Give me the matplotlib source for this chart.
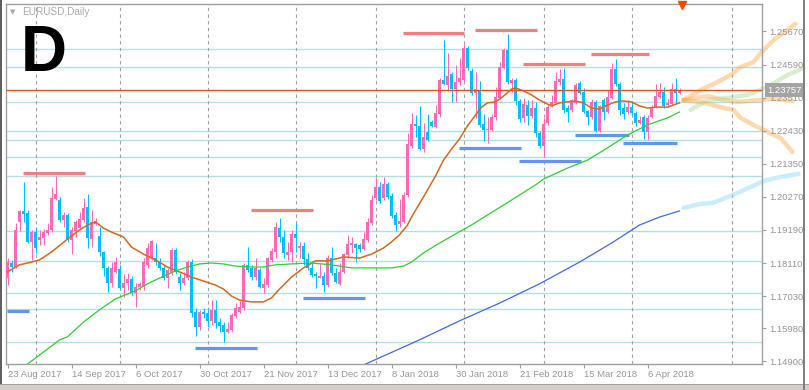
import matplotlib
matplotlib.use('Agg')
import matplotlib.pyplot as plt
import matplotlib.transforms as mtransforms
from matplotlib.patches import Rectangle
import numpy as np

# daily EURUSD candles, bar 0 = 23 Aug 2017
opens = [
    1.1762, 1.1811, 1.1798, 1.1945, 1.1981, 1.1974, 1.1880, 1.1912, 1.1886, 1.1893,
    1.1909, 1.1919, 1.2020, 1.2017, 1.1952, 1.1968, 1.1886, 1.1916, 1.1925, 1.1952,
    1.1994, 1.1889, 1.1938, 1.1899, 1.1847, 1.1795, 1.1746, 1.1782, 1.1791, 1.1729,
    1.1746, 1.1759, 1.1713, 1.1733, 1.1733, 1.1805, 1.1827, 1.1827, 1.1814, 1.1795,
    1.1762, 1.1778, 1.1854, 1.1765, 1.1746, 1.1762, 1.1814, 1.1651, 1.1602, 1.1651,
    1.1648, 1.1622, 1.1658, 1.1618, 1.1609, 1.1586, 1.1592, 1.1638, 1.1651, 1.1664,
    1.1805, 1.1795, 1.1765, 1.1788, 1.1729, 1.1739, 1.1821, 1.1847, 1.1925, 1.1896,
    1.1837, 1.1847, 1.1906, 1.1860, 1.1867, 1.1824, 1.1795, 1.1775, 1.1762, 1.1769,
    1.1739, 1.1827, 1.1778, 1.1742, 1.1782, 1.1837, 1.1870, 1.1873, 1.1870, 1.1857,
    1.1886, 1.1942, 1.2023, 1.2059, 1.2023, 1.2069, 1.2030, 1.1968, 1.1938, 1.1945,
    1.2033, 1.2193, 1.2265, 1.2258, 1.2183, 1.2239, 1.2271, 1.2255, 1.2298, 1.2409,
    1.2392, 1.2428, 1.2379, 1.2402, 1.2409, 1.2513, 1.2438, 1.2366, 1.2376, 1.2265,
    1.2245, 1.2245, 1.2288, 1.2350, 1.2448, 1.2507, 1.2399, 1.2409, 1.2340, 1.2285,
    1.2327, 1.2291, 1.2317, 1.2236, 1.2193, 1.2268, 1.2327, 1.2333, 1.2402, 1.2412,
    1.2317, 1.2311, 1.2333, 1.2399, 1.2369, 1.2307, 1.2288, 1.2336, 1.2242, 1.2343,
    1.2304, 1.2350, 1.2444, 1.2396, 1.2317, 1.2304, 1.2320, 1.2301, 1.2268, 1.2288,
    1.2239, 1.2288, 1.2320, 1.2353, 1.2369, 1.2327, 1.2330, 1.2379, 1.2366]
highs = [
    1.1827, 1.1821, 1.1942, 1.1984, 1.2076, 1.1984, 1.1919, 1.1929, 1.1919, 1.1922,
    1.1942, 1.2059, 1.2095, 1.2027, 1.1978, 1.1974, 1.1929, 1.1952, 1.1978, 1.2023,
    1.2036, 1.1984, 1.1958, 1.1929, 1.1850, 1.1801, 1.1814, 1.1831, 1.1805, 1.1775,
    1.1778, 1.1769, 1.1746, 1.1749, 1.1827, 1.1876, 1.1886, 1.1876, 1.1827, 1.1805,
    1.1795, 1.1860, 1.1860, 1.1778, 1.1782, 1.1821, 1.1824, 1.1664, 1.1658, 1.1664,
    1.1664, 1.1690, 1.1690, 1.1631, 1.1618, 1.1618, 1.1648, 1.1680, 1.1690, 1.1811,
    1.1863, 1.1805, 1.1827, 1.1795, 1.1762, 1.1831, 1.1860, 1.1945, 1.1958, 1.1919,
    1.1880, 1.1919, 1.1942, 1.1880, 1.1880, 1.1844, 1.1811, 1.1782, 1.1811, 1.1782,
    1.1837, 1.1863, 1.1795, 1.1811, 1.1844, 1.1903, 1.1896, 1.1876, 1.1876, 1.1912,
    1.1958, 1.2033, 1.2089, 1.2076, 1.2092, 1.2076, 1.2040, 1.1978, 1.2020, 1.2043,
    1.2236, 1.2301, 1.2294, 1.2324, 1.2268, 1.2298, 1.2278, 1.2327, 1.2415, 1.2539,
    1.2497, 1.2435, 1.2458, 1.2481, 1.2526, 1.2520, 1.2448, 1.2435, 1.2405, 1.2298,
    1.2288, 1.2298, 1.2386, 1.2467, 1.2513, 1.2559, 1.2415, 1.2415, 1.2347, 1.2350,
    1.2343, 1.2343, 1.2336, 1.2242, 1.2285, 1.2327, 1.2360, 1.2435, 1.2444, 1.2448,
    1.2327, 1.2347, 1.2399, 1.2405, 1.2383, 1.2311, 1.2347, 1.2343, 1.2327, 1.2350,
    1.2376, 1.2464, 1.2477, 1.2402, 1.2333, 1.2343, 1.2336, 1.2307, 1.2291, 1.2294,
    1.2294, 1.2327, 1.2396, 1.2399, 1.2386, 1.2347, 1.2399, 1.2415, 1.2383]
lows = [
    1.1739, 1.1782, 1.1795, 1.1916, 1.1945, 1.1876, 1.1821, 1.1844, 1.1870, 1.1870,
    1.1903, 1.1912, 1.2017, 1.1945, 1.1929, 1.1880, 1.1840, 1.1896, 1.1919, 1.1945,
    1.1860, 1.1863, 1.1935, 1.1834, 1.1769, 1.1716, 1.1733, 1.1778, 1.1726, 1.1700,
    1.1723, 1.1707, 1.1667, 1.1723, 1.1723, 1.1795, 1.1821, 1.1805, 1.1788, 1.1756,
    1.1729, 1.1772, 1.1775, 1.1723, 1.1739, 1.1756, 1.1635, 1.1573, 1.1592, 1.1631,
    1.1602, 1.1609, 1.1599, 1.1586, 1.1553, 1.1582, 1.1586, 1.1631, 1.1648, 1.1658,
    1.1782, 1.1756, 1.1756, 1.1729, 1.1713, 1.1733, 1.1814, 1.1827, 1.1880, 1.1827,
    1.1821, 1.1814, 1.1847, 1.1827, 1.1805, 1.1788, 1.1765, 1.1729, 1.1762, 1.1716,
    1.1733, 1.1772, 1.1746, 1.1739, 1.1778, 1.1827, 1.1844, 1.1814, 1.1847, 1.1854,
    1.1880, 1.1935, 1.2017, 1.2007, 1.2017, 1.2020, 1.1958, 1.1916, 1.1929, 1.1942,
    1.2027, 1.2187, 1.2223, 1.2180, 1.2174, 1.2210, 1.2255, 1.2252, 1.2288, 1.2392,
    1.2373, 1.2336, 1.2336, 1.2392, 1.2405, 1.2441, 1.2360, 1.2285, 1.2255, 1.2210,
    1.2203, 1.2242, 1.2278, 1.2347, 1.2444, 1.2396, 1.2369, 1.2327, 1.2271, 1.2271,
    1.2262, 1.2285, 1.2223, 1.2187, 1.2157, 1.2262, 1.2320, 1.2330, 1.2392, 1.2301,
    1.2271, 1.2304, 1.2330, 1.2363, 1.2301, 1.2262, 1.2281, 1.2239, 1.2239, 1.2278,
    1.2301, 1.2347, 1.2389, 1.2294, 1.2281, 1.2298, 1.2294, 1.2258, 1.2265, 1.2216,
    1.2213, 1.2285, 1.2317, 1.2350, 1.2317, 1.2320, 1.2327, 1.2333, 1.2363]
closes = [
    1.1814, 1.1798, 1.1919, 1.1981, 1.1971, 1.1880, 1.1912, 1.1860, 1.1896, 1.1912,
    1.1919, 1.2023, 1.2036, 1.1952, 1.1968, 1.1886, 1.1919, 1.1945, 1.1955, 1.1991,
    1.1893, 1.1945, 1.1948, 1.1847, 1.1795, 1.1746, 1.1795, 1.1814, 1.1729, 1.1746,
    1.1759, 1.1713, 1.1733, 1.1742, 1.1814, 1.1860, 1.1883, 1.1814, 1.1795, 1.1762,
    1.1788, 1.1854, 1.1782, 1.1746, 1.1762, 1.1814, 1.1648, 1.1602, 1.1651, 1.1645,
    1.1622, 1.1658, 1.1615, 1.1605, 1.1586, 1.1596, 1.1641, 1.1664, 1.1667, 1.1805,
    1.1788, 1.1765, 1.1795, 1.1733, 1.1742, 1.1827, 1.1850, 1.1929, 1.1896, 1.1844,
    1.1847, 1.1906, 1.1893, 1.1867, 1.1824, 1.1795, 1.1772, 1.1769, 1.1769, 1.1739,
    1.1827, 1.1778, 1.1749, 1.1782, 1.1840, 1.1873, 1.1876, 1.1860, 1.1857, 1.1889,
    1.1945, 1.2017, 1.2059, 1.2014, 1.2069, 1.2027, 1.1964, 1.1935, 1.1948, 1.2033,
    1.2200, 1.2265, 1.2258, 1.2183, 1.2223, 1.2213, 1.2258, 1.2301, 1.2409, 1.2396,
    1.2422, 1.2379, 1.2402, 1.2415, 1.2513, 1.2448, 1.2366, 1.2379, 1.2262, 1.2245,
    1.2249, 1.2288, 1.2353, 1.2451, 1.2507, 1.2402, 1.2409, 1.2340, 1.2281, 1.2330,
    1.2291, 1.2317, 1.2236, 1.2193, 1.2265, 1.2320, 1.2336, 1.2405, 1.2412, 1.2311,
    1.2304, 1.2343, 1.2392, 1.2366, 1.2304, 1.2288, 1.2336, 1.2242, 1.2324, 1.2304,
    1.2353, 1.2444, 1.2396, 1.2311, 1.2298, 1.2320, 1.2301, 1.2268, 1.2278, 1.2239,
    1.2285, 1.2320, 1.2356, 1.2369, 1.2324, 1.2333, 1.2379, 1.2366, 1.23757]

# moving averages at bar positions
ma_fast_bar = [0, 3, 6, 8, 11, 15, 18, 20, 22, 24, 26, 29, 31, 34, 37, 40, 43, 46, 49, 52,
               54, 56, 58, 61, 64, 66, 68, 71, 74, 77, 80, 82, 84, 88, 91, 94, 96, 98, 100,
               101, 104, 107, 109, 111, 113, 115, 117, 118.5, 120, 122, 124, 126, 127, 129,
               131, 133, 135, 136, 138, 140, 142, 144, 146, 148, 150, 152, 154, 156, 158,
               160, 162, 165, 168]
ma_fast = [1.1782, 1.1805, 1.1814, 1.1821, 1.1847, 1.1889, 1.1919, 1.1935, 1.1945, 1.1925,
           1.1912, 1.1896, 1.1863, 1.1840, 1.1821, 1.1798, 1.1782, 1.1765, 1.1752, 1.1739,
           1.1726, 1.1703, 1.1690, 1.1684, 1.1684, 1.1697, 1.1726, 1.1765, 1.1795, 1.1818,
           1.1818, 1.1824, 1.1831, 1.1827, 1.1840, 1.1860, 1.1880, 1.1903, 1.1935,
           1.1961, 1.2027, 1.2095, 1.2147, 1.2183, 1.2216, 1.2259, 1.2294, 1.2320, 1.2334,
           1.2337, 1.2356, 1.2379, 1.2383, 1.2373, 1.2360, 1.2343, 1.2330, 1.2324, 1.2334,
           1.2337, 1.2340, 1.2334, 1.2317, 1.2314, 1.2327, 1.2337, 1.2340, 1.2337, 1.2324,
           1.2317, 1.2320, 1.2320, 1.2334]
ma_mid_bar = [3, 5, 10, 13, 15, 19, 23, 27, 32, 35, 38, 42, 45, 48, 51, 54, 57, 61, 64, 67,
              71, 76, 81, 86, 91, 96, 99, 101, 104, 108, 112, 116, 120, 124, 128, 132, 134,
              140, 145, 150, 155, 160, 165, 168]
ma_mid = [1.1462, 1.1481, 1.1530, 1.1560, 1.1570, 1.1618, 1.1658, 1.1694, 1.1720, 1.1743,
          1.1762, 1.1785, 1.1798, 1.1808, 1.1811, 1.1808, 1.1801, 1.1798, 1.1798, 1.1805,
          1.1808, 1.1811, 1.1805, 1.1795, 1.1795, 1.1795, 1.1801, 1.1814, 1.1844, 1.1876,
          1.1906, 1.1935, 1.1968, 1.2000, 1.2033, 1.2066, 1.2085, 1.2121, 1.2147, 1.2187,
          1.2229, 1.2262, 1.2285, 1.2304]
ma_slow_bar = [87, 89.5, 103, 113, 123, 133, 143, 151, 158, 163, 168]
ma_slow = [1.1462, 1.1481, 1.1560, 1.1622, 1.1680, 1.1743, 1.1814, 1.1876, 1.1935, 1.1961, 1.1981]

# projected paths to the right of the last bar
proj_up_bar = [169, 173.25, 177.5, 180.75, 183.25, 186.5, 188.25, 191.5, 195, 197]
proj_up = [1.2343, 1.2376, 1.2402, 1.2425, 1.2451, 1.2467, 1.2496, 1.2539, 1.2572, 1.2592]
proj_flat_bar = [169, 172.5, 175, 178.25, 182.5, 187.5, 191.5, 196.25]
proj_flat = [1.2343, 1.2350, 1.2356, 1.2346, 1.2337, 1.2343, 1.2347, 1.2340]
proj_down_bar = [169, 173.25, 178.25, 181.5, 183.25, 186.5, 190, 193.25, 196.25]
proj_down = [1.2343, 1.2337, 1.2320, 1.2311, 1.2285, 1.2262, 1.2239, 1.2219, 1.2174]
proj_mid_bar = [170.75, 175, 180, 185, 190, 195, 199]
proj_mid = [1.2311, 1.2343, 1.2350, 1.2360, 1.2386, 1.2425, 1.2448]
proj_slow_bar = [169, 173.25, 176.25, 178.25, 181.25, 185.75, 189, 193.25, 197.75]
proj_slow = [1.1991, 1.2004, 1.2007, 1.2017, 1.2033, 1.2059, 1.2079, 1.2092, 1.2102]

# horizontal levels
levels = [1.2510, 1.2451, 1.2337, 1.2242, 1.2214, 1.2157, 1.2095,
          1.1916, 1.1818, 1.1713, 1.1661, 1.1553]
res_price = [1.2105, 1.1984, 1.2562, 1.2572, 1.2461, 1.2494]
res_from = [3.75, 60.75, 98.75, 116.75, 128.75, 145.75]
res_to = [19.25, 76.25, 114, 132.25, 144.25, 160.25]
sup_price = [1.1655, 1.1533, 1.1697, 1.2187, 1.2144, 1.2229, 1.2203]
sup_from = [-0.25, 46.75, 73.75, 112.75, 127.75, 141.75, 153.75]
sup_to = [5.25, 62.25, 89.4, 128.25, 143.25, 155.25, 167.25]

month_starts = [7, 28, 50, 72, 92, 114, 134, 156, 181]
date_ticks = [0, 16, 32, 48, 64, 80, 96, 112, 128, 144, 160]
date_labels = ['23 Aug 2017', '14 Sep 2017', '6 Oct 2017', '30 Oct 2017', '21 Nov 2017',
               '13 Dec 2017', '8 Jan 2018', '30 Jan 2018', '21 Feb 2018', '15 Mar 2018',
               '6 Apr 2018']
price_ticks = [1.25670, 1.24590, 1.23510, 1.22430, 1.21350, 1.20270,
               1.19190, 1.18110, 1.17030, 1.15980, 1.14900]
last_price = 1.23757

W, H = 809, 390
fig = plt.figure(figsize=(W / 100, H / 100), dpi=100)
fig.patch.set_facecolor('white')
ax = fig.add_axes([6 / W, 26 / H, 756 / W, 360 / H])
# half-pixel shift so the 4 px bar slots sit on whole pixels
ax.set_xlim(-0.375, 188.625)
ax.set_ylim(1.14812, 1.26568)

grey = '#a0a0a0'
txt_grey = '#969696'
tick_font = dict(family='Liberation Sans', size=6.8)

# level lines
for lv in levels:
    ax.axhline(lv, color='#b0e0e6', lw=1.0, zorder=1)

# month separators
for m in month_starts:
    ax.axvline(m, color=grey, lw=0.8, ls=(0, (3, 3)), zorder=1)

# candles
o = np.array(opens)
h = np.array(highs)
l = np.array(lows)
c = np.array(closes)
bars = np.arange(len(o))
up = c >= o
col = np.where(up, '#ff69b4', '#00bfff')
ax.vlines(bars, l, h, colors=col, lw=0.75, zorder=3)
body_lo = np.minimum(o, c)
body_h = np.maximum(np.abs(c - o), 0.00012)
ax.bar(bars, body_h, bottom=body_lo, width=0.75, color=col, lw=0, zorder=3)

# support / resistance segments
ax.hlines(res_price, res_from, res_to, colors='#f08080', lw=2.3, zorder=2)
ax.hlines(sup_price, sup_from, sup_to, colors='#6495ed', lw=2.3, zorder=2)

# moving averages
ax.plot(ma_fast_bar, ma_fast, color='#d2691e', lw=1.1, zorder=4)
ax.plot(ma_mid_bar, ma_mid, color='#32cd32', lw=0.9, zorder=4)
ax.plot(ma_slow_bar, ma_slow, color='#4169e1', lw=0.9, zorder=4)

# projections (run over the price scale as in the terminal)
pk = dict(lw=3.2, alpha=0.42, solid_capstyle='round', clip_on=False, zorder=1.5)
ax.plot(proj_up_bar, proj_up, color='#ffa53c', **pk)
ax.plot(proj_flat_bar, proj_flat, color='#ffa53c', **pk)
ax.plot(proj_down_bar, proj_down, color='#ffa53c', **pk)
ax.plot(proj_mid_bar, proj_mid, color='#a8d88a', **pk)
ax.plot(proj_slow_bar, proj_slow, color='#7fd4ff', **pk)

# current price line and marker
ax.axhline(last_price, color='#e8501e', lw=1.0, zorder=5)
ax.plot([168.5], [1.2654], marker='v', color='#ff4500', markersize=6, clip_on=False, zorder=6)

# axes styling
for s in ax.spines.values():
    s.set_color(grey)
    s.set_linewidth(1.0)
ax.yaxis.tick_right()
ax.set_yticks(price_ticks)
ax.set_yticklabels(['%.5f' % p for p in price_ticks], color=txt_grey, **tick_font)
ax.set_xticks(date_ticks)
ax.set_xticklabels(date_labels, color=txt_grey, ha='left', **tick_font)
ax.tick_params(axis='both', colors=grey, length=3, width=0.8, pad=2)
ax.tick_params(axis='x', labelcolor=txt_grey, pad=1.5)
ax.tick_params(axis='y', labelcolor=txt_grey)

trans = mtransforms.blended_transform_factory(ax.transAxes, ax.transData)
ax.text(1.0 + 5 / 756, last_price, '%.5f' % last_price, transform=trans, ha='left',
        va='center', color='white', zorder=7,
        bbox=dict(boxstyle='square,pad=0.25', fc='#a4a4a4', ec='none'), **tick_font)

# header
fig.text(10 / W, 1 - 12 / H, '\u25bc', color='#a8a8a8', fontsize=5, va='center', ha='left')
fig.text(22 / W, 1 - 12 / H, 'EURUSD,Daily', color='#a8a8a8', va='center', ha='left',
         family='Liberation Sans', size=7.2)
fig.text(21 / W, 1 - 54 / H, 'D', color='black', va='center', ha='left',
         family='Liberation Sans', weight='bold', size=46)

# window chrome
fig.patches.append(Rectangle((0, 0), 2 / W, 1, transform=fig.transFigure, fc='#606060', ec='none'))
fig.patches.append(Rectangle((0, 0), 1, 5 / H, transform=fig.transFigure, fc='#d4d0c8', ec='none'))
fig.patches.append(Rectangle((0, 5 / H), 1, 1 / H, transform=fig.transFigure, fc='#a0a0a0', ec='none'))
fig.patches.append(Rectangle((803 / W, 0), 2 / W, 1, transform=fig.transFigure, fc='#808080', ec='none'))

fig.savefig('out.png', dpi=100)
